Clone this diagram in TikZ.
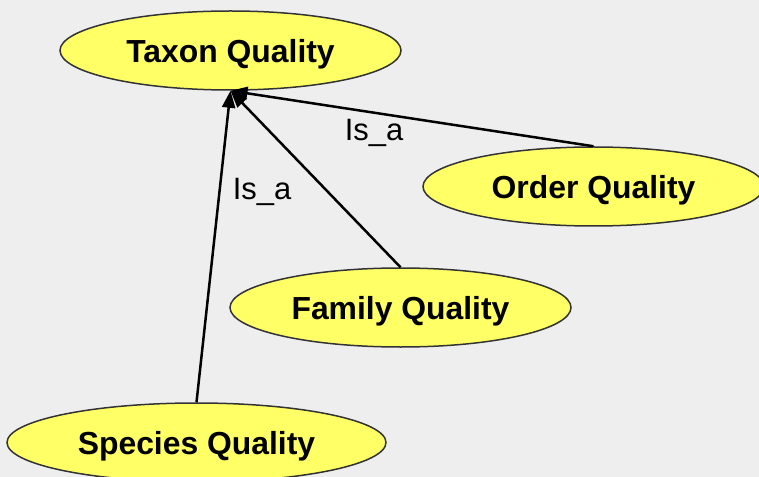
\documentclass[tikz,border=0pt]{standalone}
\usepackage{fontspec}
\setmainfont{Liberation Sans}
\usetikzlibrary{arrows.meta,shapes.geometric}
\definecolor{fond}{HTML}{EEEEEE}
\definecolor{jaune}{HTML}{FFFF66}
\definecolor{bord}{HTML}{333333}
\tikzset{
  qualite/.style={ellipse, draw=bord, line width=1.5bp, fill=jaune, inner sep=0pt,
    minimum width=341bp, minimum height=79bp, text depth=0pt,
    font=\fontsize{32}{38}\selectfont\bfseries},
  isa/.style={line width=2.5bp, -{Triangle[length=17bp,width=13bp]}},
  etiquette/.style={font=\fontsize{31}{37}\selectfont, inner sep=0pt}
}

\begin{document}
\begin{tikzpicture}[x=1bp,y=-1bp]
  \fill[fond] (0,0) rectangle (759,477);
  \useasboundingbox (0,0) rectangle (759,477);
  % classes
  \node[qualite] (taxon) at (230.5,50.5) {Taxon Quality};
  \node[qualite] (order) at (593.5,186.5) {Order Quality};
  \node[qualite] (family) at (400.5,307.5) {Family Quality};
  \node[qualite, minimum width=379bp] (species) at (196.5,442.5) {Species Quality};
  % relations is_a
  \draw[isa] (order.north) -- (taxon.south);
  \draw[isa] (family.north) -- (taxon.south);
  \draw[isa] (species.north) -- (taxon.south);
  \node[etiquette] (isaorder) at (374,133) {Is\_a};
  \node[etiquette] (isaspecies) at (262,192) {Is\_a};
\end{tikzpicture}
\end{document}
